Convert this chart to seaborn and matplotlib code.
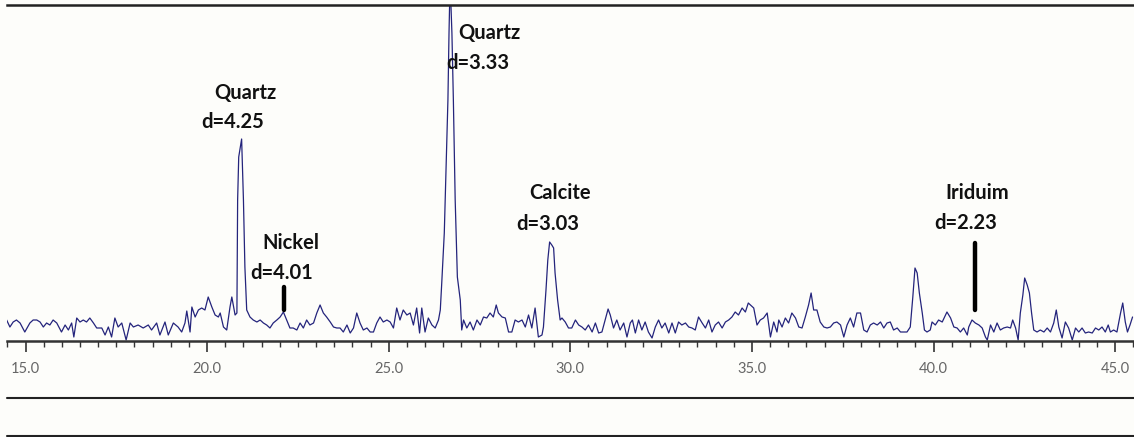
import matplotlib
matplotlib.use("Agg")
import matplotlib.pyplot as plt
from matplotlib.lines import Line2D
from matplotlib.ticker import MultipleLocator, FormatStrFormatter
import seaborn as sns
import pandas as pd

# %% XRD scan (2-theta in degrees, counts in arbitrary units)
two_theta = [
    14.48, 14.57, 14.66, 14.75, 14.85, 14.98, 15.12, 15.21, 15.31, 15.40, 15.49, 15.58,
    15.67, 15.76, 15.86, 15.99, 16.09, 16.18, 16.27, 16.33, 16.41, 16.50, 16.59, 16.68,
    16.77, 16.87, 16.96, 17.10, 17.19, 17.28, 17.37, 17.46, 17.55, 17.65, 17.77, 17.88,
    17.97, 18.10, 18.24, 18.38, 18.47, 18.61, 18.70, 18.84, 18.93, 19.07, 19.20, 19.30,
    19.39, 19.44, 19.53, 19.58, 19.67, 19.76, 19.85, 19.94, 20.03, 20.13, 20.22, 20.31,
    20.36, 20.45, 20.54, 20.63, 20.68, 20.77, 20.82, 20.84, 20.87, 20.95, 21.00, 21.04,
    21.09, 21.18, 21.27, 21.37, 21.46, 21.55, 21.64, 21.73, 21.82, 21.92, 22.01, 22.10,
    22.19, 22.28, 22.37, 22.47, 22.56, 22.65, 22.74, 22.83, 22.93, 23.02, 23.11, 23.20,
    23.29, 23.39, 23.48, 23.57, 23.66, 23.75, 23.85, 23.94, 24.03, 24.12, 24.21, 24.30,
    24.40, 24.49, 24.58, 24.67, 24.76, 24.85, 24.95, 25.04, 25.13, 25.22, 25.31, 25.40,
    25.50, 25.59, 25.68, 25.77, 25.85, 25.91, 26.00, 26.09, 26.19, 26.28, 26.37, 26.42,
    26.46, 26.53, 26.58, 26.63, 26.66, 26.69, 26.74, 26.78, 26.83, 26.89, 26.97, 27.01,
    27.06, 27.15, 27.24, 27.33, 27.43, 27.52, 27.61, 27.70, 27.79, 27.88, 27.96, 28.02,
    28.12, 28.21, 28.30, 28.39, 28.48, 28.57, 28.67, 28.76, 28.85, 28.94, 29.03, 29.12,
    29.22, 29.26, 29.33, 29.38, 29.43, 29.49, 29.54, 29.58, 29.65, 29.72, 29.77, 29.86,
    29.95, 30.04, 30.14, 30.23, 30.32, 30.41, 30.50, 30.60, 30.69, 30.78, 30.87, 30.96,
    31.04, 31.10, 31.19, 31.28, 31.37, 31.47, 31.56, 31.65, 31.71, 31.79, 31.88, 31.97,
    32.06, 32.15, 32.25, 32.34, 32.43, 32.52, 32.61, 32.71, 32.80, 32.89, 32.98, 33.07,
    33.17, 33.26, 33.35, 33.44, 33.53, 33.63, 33.72, 33.81, 33.90, 33.99, 34.08, 34.18,
    34.27, 34.36, 34.45, 34.54, 34.63, 34.73, 34.82, 34.90, 35.05, 35.14, 35.23, 35.32,
    35.42, 35.51, 35.60, 35.69, 35.74, 35.83, 35.92, 36.01, 36.10, 36.20, 36.29, 36.38,
    36.47, 36.56, 36.63, 36.70, 36.79, 36.88, 36.98, 37.07, 37.16, 37.25, 37.34, 37.44,
    37.53, 37.62, 37.71, 37.80, 37.89, 37.99, 38.08, 38.17, 38.26, 38.35, 38.45, 38.54,
    38.63, 38.72, 38.81, 38.90, 39.00, 39.09, 39.18, 39.27, 39.36, 39.43, 39.49, 39.55,
    39.61, 39.69, 39.75, 39.82, 39.91, 39.96, 40.05, 40.14, 40.24, 40.33, 40.37, 40.47,
    40.56, 40.65, 40.74, 40.83, 40.93, 40.97, 41.06, 41.15, 41.25, 41.34, 41.43, 41.48,
    41.57, 41.66, 41.75, 41.84, 41.93, 42.03, 42.12, 42.18, 42.26, 42.33, 42.39, 42.46,
    42.51, 42.58, 42.64, 42.70, 42.76, 42.85, 42.94, 43.04, 43.13, 43.22, 43.31, 43.38,
    43.45, 43.54, 43.63, 43.72, 43.82, 43.91, 44.00, 44.09, 44.18, 44.27, 44.37, 44.46,
    44.55, 44.64, 44.73, 44.81, 44.87, 44.96, 45.05, 45.15, 45.21, 45.28, 45.34, 45.41,
    45.48,
]
counts = [
    21, 14, 19, 21, 18, 9, 18, 21, 21, 19, 14, 18,
    16, 21, 18, 9, 16, 11, 18, 4, 23, 19, 21, 19,
    23, 18, 13, 13, 6, 14, 4, 23, 14, 18, 1, 18,
    14, 16, 13, 16, 11, 18, 6, 19, 6, 18, 14, 9,
    18, 30, 9, 34, 24, 31, 33, 31, 44, 34, 26, 24,
    28, 14, 11, 34, 44, 26, 28, 141, 184, 202, 141, 74,
    31, 24, 21, 19, 21, 18, 16, 13, 18, 21, 24, 29,
    21, 13, 13, 11, 18, 13, 21, 16, 18, 28, 36, 28,
    24, 19, 14, 13, 13, 9, 16, 8, 13, 28, 18, 11,
    13, 9, 9, 18, 24, 19, 21, 19, 13, 33, 21, 31,
    26, 28, 16, 33, 8, 33, 9, 23, 16, 13, 21, 31,
    58, 108, 174, 241, 308, 360, 308, 241, 141, 64, 41, 11,
    21, 13, 19, 11, 21, 16, 24, 23, 28, 24, 36, 28,
    24, 23, 9, 9, 21, 19, 21, 14, 26, 13, 33, 4,
    6, 14, 51, 81, 99, 96, 93, 68, 41, 21, 23, 19,
    13, 13, 21, 16, 14, 11, 16, 9, 18, 8, 9, 21,
    32, 26, 13, 21, 11, 18, 4, 18, 21, 8, 21, 11,
    19, 9, 3, 14, 21, 13, 18, 8, 18, 8, 19, 16,
    18, 14, 13, 11, 24, 18, 13, 21, 9, 16, 19, 13,
    19, 21, 24, 29, 26, 33, 29, 38, 33, 16, 21, 23,
    28, 4, 19, 9, 21, 14, 23, 18, 28, 23, 14, 13,
    24, 36, 48, 31, 31, 19, 14, 13, 14, 18, 19, 16,
    4, 16, 23, 14, 28, 28, 11, 9, 16, 18, 16, 19,
    13, 18, 19, 11, 13, 9, 9, 9, 14, 44, 73, 68,
    48, 28, 11, 9, 11, 19, 16, 21, 19, 26, 29, 23,
    14, 13, 9, 13, 6, 14, 21, 18, 16, 13, 4, 1,
    16, 9, 18, 11, 13, 14, 13, 21, 13, 1, 28, 46,
    63, 56, 48, 28, 11, 9, 11, 9, 13, 9, 18, 31,
    14, 3, 19, 13, 1, 13, 9, 13, 8, 9, 8, 13,
    11, 14, 9, 16, 9, 11, 9, 28, 38, 19, 9, 16,
    24,
]

# peak labels
phase_names = ["Quartz", "Nickel", "Quartz", "Calcite", "Iriduim"]
d_values = ["4.25", "4.01", "3.33", "3.03", "2.23"]

# thick black markers for the weak phases
marker_theta = [22.13, 41.13]
marker_low = [31, 31]
marker_high = [54, 98]

# where the labels sit (2-theta, counts)
name_xy = [(21.04, 248), (22.31, 98), (27.77, 308), (29.72, 148), (41.21, 148)]
d_xy = [(20.70, 219), (22.04, 68), (27.46, 278), (29.39, 117), (40.88, 118)]

sns.set_theme(style="white")
plt.rcParams["font.family"] = ["Lato", "Liberation Sans", "DejaVu Sans"]

bg = "#fdfdfa"
W, H = 1134, 437
fig = plt.figure(figsize=(W / 100, H / 100), dpi=100, facecolor=bg)
ax = fig.add_axes([7 / W, 96 / H, 1 - 7 / W, 336 / H])
ax.set_facecolor(bg)

df = pd.DataFrame({"two_theta": two_theta, "counts": counts})
sns.lineplot(data=df, x="two_theta", y="counts", ax=ax, color="#24247c", lw=0.9)

for t, lo, hi in zip(marker_theta, marker_low, marker_high):
    ax.plot([t, t], [lo, hi], color="black", lw=3.2, solid_capstyle="round")

for name, (x, y) in zip(phase_names, name_xy):
    ax.text(x, y, name, ha="center", va="center", fontsize=14.5, fontweight="bold", color="#111")
for d, (x, y) in zip(d_values, d_xy):
    ax.text(x, y, f"d={d}", ha="center", va="center", fontsize=14.5, fontweight="bold", color="#111")

ax.set_xlim(14.49, 45.52)
ax.set_ylim(0, 336)
ax.set_xlabel("")
ax.set_ylabel("")
ax.set_yticks([])
ax.xaxis.set_major_locator(MultipleLocator(5))
ax.xaxis.set_minor_locator(MultipleLocator(0.5))
ax.xaxis.set_major_formatter(FormatStrFormatter("%.1f"))
ax.tick_params(axis="x", which="major", bottom=True, direction="out", length=8, width=1.2,
               color="#333", labelcolor="#666", labelsize=10.5, pad=7)
ax.tick_params(axis="x", which="minor", bottom=True, direction="out", length=4.5, width=1.0, color="#333")

for side in ["left", "right"]:
    ax.spines[side].set_visible(False)
ax.spines["top"].set_color("#222")
ax.spines["top"].set_linewidth(1.8)
ax.spines["bottom"].set_color("#333")
ax.spines["bottom"].set_linewidth(1.8)

# the two rules below the plot
for yy in [39 / H, 1.5 / H]:
    fig.add_artist(Line2D([7 / W, 1], [yy, yy], color="#222", lw=1.5))

fig.savefig("out.png", dpi=100, facecolor=bg)
